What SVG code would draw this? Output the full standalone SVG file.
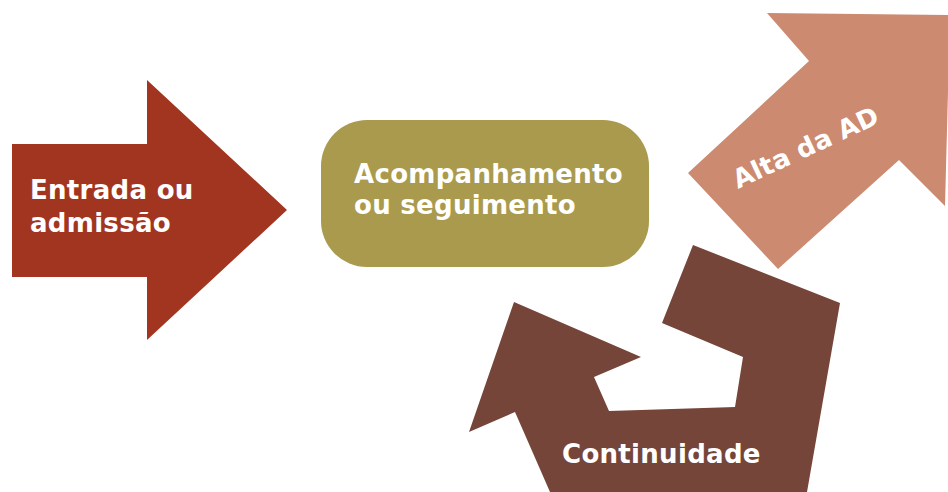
<svg xmlns="http://www.w3.org/2000/svg" width="948" height="492" viewBox="0 0 948 492">
<style>
.lbl{font-family:"DejaVu Sans","Verdana",sans-serif;font-weight:bold;font-size:26px;letter-spacing:0.3px;fill:#ffffff}
</style>
<rect width="948" height="492" fill="#ffffff"/>
<g id="entrada">
<polygon points="12,144 147,144 147,80 287,210 147,340 147,277 12,277" fill="#A23520"/>
<text class="lbl" x="30" y="199">Entrada ou</text>
<text class="lbl" x="30" y="232">admissão</text>
</g>
<g id="acompanhamento">
<rect x="321" y="120" width="328" height="147" rx="46" ry="46" fill="#A99A4E"/>
<text class="lbl" x="354" y="183">Acompanhamento</text>
<text class="lbl" x="354" y="214">ou seguimento</text>
</g>
<g id="alta">
<polygon points="809,61 767,13 950,15 945,206 899,160 778,269 688,173" fill="#CC8A70"/>
<text class="lbl" x="0" y="0" transform="translate(738,189) rotate(-25)">Alta da AD</text>
</g>
<g id="continuidade">
<polygon points="693,245 840,303 807,492 550,492 515,412 469,432 514,302 641,357 594,377 609,411 735,407 743,357 662,323" fill="#764539"/>
<text class="lbl" x="562" y="463">Continuidade</text>
</g>
<g id="connectors"></g>
</svg>
